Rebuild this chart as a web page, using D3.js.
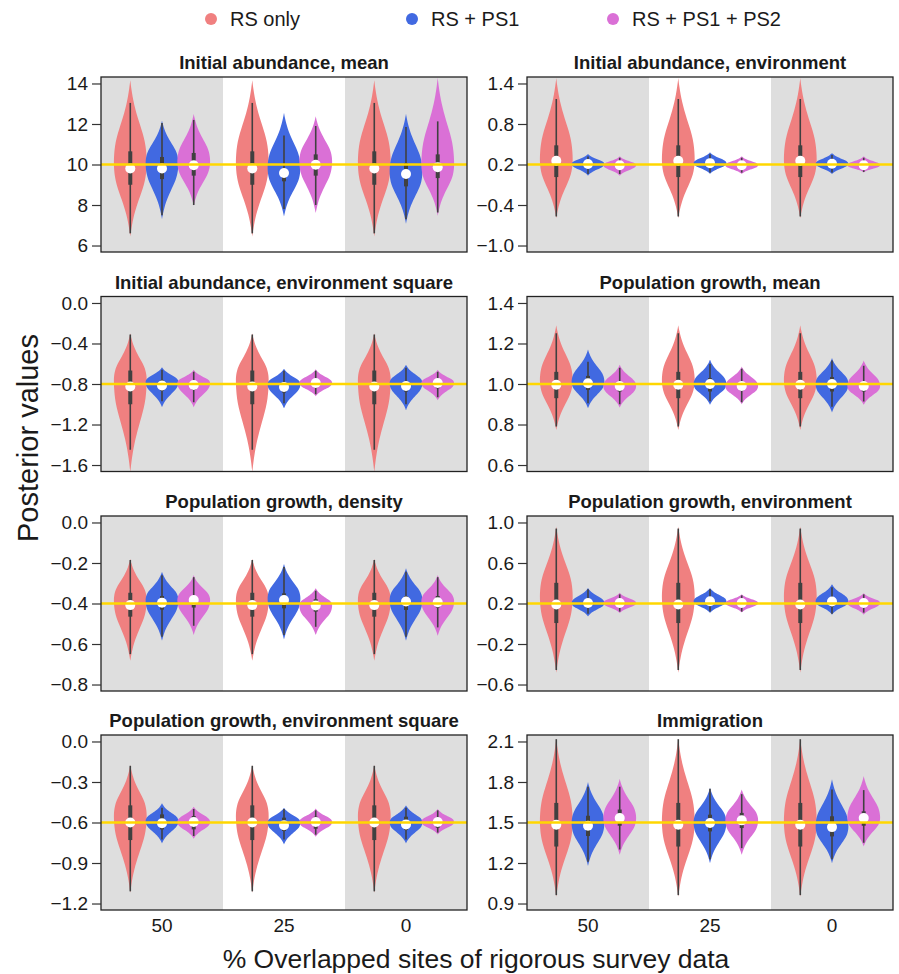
<!DOCTYPE html>
<meta charset="utf-8">
<style>
  body { margin: 0; background: white; }
  text { font-family: "Liberation Sans", Arial, Helvetica, sans-serif; fill: #1a1a1a; }
  .panel_title { font-weight: bold; font-size: 18.5px; }
  .tick text { font-size: 19px; }
  .tick line { stroke: #333; }
  .domain { display: none; }
</style>
<script src="https://d3js.org/d3.v7.min.js"></script>
<div id="my_dataviz"></div>
<script>

// groups on the x axis and the three data combinations
var groups = ["50", "25", "0"];
var series = ["RS only", "RS + PS1", "RS + PS1 + PS2"];
var colors = ["#F08080", "#4169E1", "#DA70D6"];

var titles = [
  "Initial abundance, mean", "Initial abundance, environment",
  "Initial abundance, environment square", "Population growth, mean",
  "Population growth, density", "Population growth, environment",
  "Population growth, environment square", "Immigration"
];
var yTicks = [
  [6, 8, 10, 12, 14], [-1.0, -0.4, 0.2, 0.8, 1.4],
  [-1.6, -1.2, -0.8, -0.4, 0.0], [0.6, 0.8, 1.0, 1.2, 1.4],
  [-0.8, -0.6, -0.4, -0.2, 0.0], [-0.6, -0.2, 0.2, 0.6, 1.0],
  [-1.2, -0.9, -0.6, -0.3, 0.0], [0.9, 1.2, 1.5, 1.8, 2.1]
];
// true parameter value (yellow line)
var truth = [10, 0.2, -0.8, 1.0, -0.4, 0.2, -0.6, 1.5];

// one violin = [low tip, high tip, widest point, whisker low, whisker high, q1, q3, mean]
// RS only is the same in every group
var rsOnly = [
  [6.44, 14.16, 10.1, 6.6, 13.04, 9.0, 10.65, 9.8],
  [-0.595, 1.48, 0.27, -0.57, 1.17, 0.014, 0.484, 0.256],
  [-1.67, -0.30, -0.76, -1.45, -0.31, -1.0, -0.667, -0.825],
  [0.773, 1.29, 1.02, 0.79, 1.25, 0.93, 1.06, 0.996],
  [-0.683, -0.18, -0.383, -0.65, -0.185, -0.465, -0.347, -0.408],
  [-0.483, 0.96, 0.27, -0.457, 0.94, 0.007, 0.404, 0.19],
  [-1.12, -0.176, -0.55, -1.11, -0.18, -0.73, -0.473, -0.6],
  [0.95, 2.12, 1.51, 0.962, 2.117, 1.322, 1.645, 1.484]
];
// per panel: groups 50, 25, 0
var rsPs1 = [
  [[7.3, 12.17, 10.07, 7.5, 12.05, 9.28, 10.37, 9.8],
   [7.43, 12.55, 9.83, 7.8, 11.43, 9.17, 9.83, 9.58],
   [7.07, 12.5, 9.66, 7.3, 11.85, 8.92, 10.07, 9.53]],
  [[0.034, 0.355, 0.207, 0.06, 0.32, 0.147, 0.256, 0.207],
   [0.06, 0.38, 0.22, 0.08, 0.35, 0.17, 0.27, 0.22],
   [0.06, 0.37, 0.21, 0.08, 0.34, 0.16, 0.26, 0.21]],
  [[-1.03, -0.634, -0.78, -0.97, -0.66, -0.865, -0.76, -0.815],
   [-1.04, -0.65, -0.80, -0.99, -0.67, -0.885, -0.785, -0.83],
   [-1.06, -0.61, -0.79, -1.0, -0.64, -0.875, -0.77, -0.82]],
  [[0.88, 1.17, 1.01, 0.905, 1.11, 0.971, 1.04, 1.004],
   [0.897, 1.12, 1.0, 0.915, 1.10, 0.963, 1.029, 1.0],
   [0.859, 1.128, 1.0, 0.888, 1.116, 0.963, 1.034, 1.0]],
  [[-0.584, -0.243, -0.383, -0.564, -0.26, -0.43, -0.363, -0.396],
   [-0.578, -0.205, -0.375, -0.556, -0.22, -0.424, -0.35, -0.383],
   [-0.584, -0.226, -0.383, -0.564, -0.243, -0.432, -0.363, -0.39]],
  [[0.073, 0.354, 0.205, 0.10, 0.34, 0.16, 0.25, 0.205],
   [0.106, 0.354, 0.222, 0.12, 0.34, 0.18, 0.26, 0.222],
   [0.09, 0.39, 0.22, 0.10, 0.36, 0.17, 0.26, 0.22]],
  [[-0.755, -0.458, -0.59, -0.725, -0.49, -0.651, -0.54, -0.606],
   [-0.762, -0.49, -0.60, -0.725, -0.5, -0.663, -0.564, -0.62],
   [-0.755, -0.473, -0.60, -0.725, -0.49, -0.656, -0.557, -0.614]],
  [[1.178, 1.80, 1.496, 1.21, 1.765, 1.40, 1.55, 1.476],
   [1.198, 1.757, 1.50, 1.228, 1.75, 1.434, 1.558, 1.496],
   [1.198, 1.82, 1.47, 1.228, 1.745, 1.397, 1.546, 1.466]]
];
var rsPs1Ps2 = [
  [[7.96, 12.5, 10.15, 8.0, 12.2, 9.45, 10.57, 9.96],
   [7.6, 12.38, 10.15, 8.0, 11.9, 9.45, 10.5, 9.99],
   [7.47, 14.28, 10.0, 7.63, 12.13, 9.33, 10.5, 9.87]],
  [[0.034, 0.32, 0.19, 0.06, 0.30, 0.15, 0.23, 0.19],
   [0.06, 0.32, 0.19, 0.08, 0.30, 0.15, 0.23, 0.19],
   [0.08, 0.32, 0.19, 0.09, 0.30, 0.15, 0.23, 0.19]],
  [[-1.03, -0.66, -0.79, -0.98, -0.68, -0.858, -0.776, -0.81],
   [-0.92, -0.655, -0.79, -0.9, -0.67, -0.832, -0.752, -0.79],
   [-0.96, -0.66, -0.79, -0.93, -0.68, -0.842, -0.752, -0.79]],
  [[0.883, 1.095, 0.99, 0.9, 1.08, 0.963, 1.012, 0.99],
   [0.90, 1.086, 0.99, 0.91, 1.075, 0.968, 1.012, 0.99],
   [0.897, 1.116, 0.99, 0.913, 1.09, 0.963, 1.012, 0.99]],
  [[-0.556, -0.26, -0.383, -0.51, -0.27, -0.42, -0.363, -0.383],
   [-0.556, -0.325, -0.41, -0.515, -0.337, -0.44, -0.379, -0.41],
   [-0.56, -0.26, -0.39, -0.518, -0.27, -0.42, -0.363, -0.394]],
  [[0.106, 0.305, 0.205, 0.12, 0.29, 0.17, 0.24, 0.205],
   [0.113, 0.29, 0.205, 0.12, 0.28, 0.17, 0.24, 0.205],
   [0.09, 0.30, 0.205, 0.11, 0.29, 0.17, 0.24, 0.205]],
  [[-0.72, -0.483, -0.596, -0.70, -0.5, -0.651, -0.552, -0.596],
   [-0.705, -0.497, -0.596, -0.69, -0.51, -0.646, -0.557, -0.596],
   [-0.688, -0.5, -0.596, -0.675, -0.51, -0.639, -0.564, -0.596]],
  [[1.26, 1.824, 1.533, 1.30, 1.765, 1.476, 1.596, 1.533],
   [1.26, 1.745, 1.516, 1.31, 1.71, 1.459, 1.571, 1.516],
   [1.322, 1.844, 1.533, 1.35, 1.74, 1.476, 1.583, 1.533]]
];

// relative half-width of a violin from its widest point (0) to its tip (1)
var violinShape = [1, 0.98, 0.93, 0.83, 0.68, 0.52, 0.37, 0.24, 0.14, 0.06, 0];

var W = 899, H = 974;
var colX = [101, 527], panelW = 366, panelH = 175;
var rowY = [77, 296.5, 516, 735];
var halfW = 16.5;

var svg = d3.select("#my_dataviz")
  .append("svg")
    .attr("width", W)
    .attr("height", H);

// legend
var legend = svg.append("g");
var legendX = [211, 412, 613];
series.forEach(function(s, i) {
  legend.append("circle")
    .attr("cx", legendX[i]).attr("cy", 19).attr("r", 6)
    .style("fill", colors[i]);
  legend.append("text")
    .attr("x", legendX[i] + 19).attr("y", 26)
    .style("font-size", "20px")
    .text(s);
});

function violinPoints(v) {
  var lo = v[0], hi = v[1], mid = v[2];
  var n = violinShape.length - 1;
  var pts = [];
  for (var i = n; i >= 0; i--) {
    pts.push({ v: mid - (mid - lo) * i / n, f: violinShape[i] });
  }
  for (var j = 1; j <= n; j++) {
    pts.push({ v: mid + (hi - mid) * j / n, f: violinShape[j] });
  }
  return pts;
}

titles.forEach(function(title, p) {
  var col = p % 2, row = Math.floor(p / 2);
  var g = svg.append("g")
    .attr("transform", "translate(" + colX[col] + "," + rowY[row] + ")");

  var t = yTicks[p];
  var span = t[t.length - 1] - t[0];
  var y = d3.scaleLinear()
    .domain([t[0] - 0.04 * span, t[t.length - 1] + 0.04 * span])
    .range([panelH, 0]);
  var x = d3.scaleBand().domain(groups).range([0, panelW]);
  var xi = d3.scalePoint().domain(series)
    .range([x.bandwidth() * 0.24, x.bandwidth() * 0.76]);

  // alternating grey / white group bands
  g.selectAll("bands")
    .data(groups)
    .enter()
    .append("rect")
      .attr("x", function(d) { return x(d); })
      .attr("y", 0)
      .attr("width", x.bandwidth())
      .attr("height", panelH)
      .style("fill", function(d, i) { return i % 2 === 0 ? "#dedede" : "#ffffff"; });

  g.append("clipPath").attr("id", "clip" + p)
    .append("rect").attr("width", panelW).attr("height", panelH);

  var plot = g.append("g").attr("clip-path", "url(#clip" + p + ")");

  var violins = [];
  groups.forEach(function(gr, gi) {
    violins.push({ group: gr, s: 0, v: rsOnly[p] });
    violins.push({ group: gr, s: 1, v: rsPs1[p][gi] });
    violins.push({ group: gr, s: 2, v: rsPs1Ps2[p][gi] });
  });

  violins.forEach(function(d) {
    var cx = x(d.group) + xi(series[d.s]);
    var area = d3.area()
      .y(function(q) { return y(q.v); })
      .x0(function(q) { return cx - halfW * q.f; })
      .x1(function(q) { return cx + halfW * q.f; })
      .curve(d3.curveBasis);
    plot.append("path")
      .attr("d", area(violinPoints(d.v)))
      .style("fill", colors[d.s]);
    // whisker
    plot.append("line")
      .attr("x1", cx).attr("x2", cx)
      .attr("y1", y(d.v[3])).attr("y2", y(d.v[4]))
      .style("stroke", "#404040").style("stroke-width", 1.6);
    // box
    plot.append("rect")
      .attr("x", cx - 2).attr("width", 4)
      .attr("y", y(d.v[6])).attr("height", y(d.v[5]) - y(d.v[6]))
      .style("fill", "#404040");
    // mean
    plot.append("circle")
      .attr("cx", cx).attr("cy", y(d.v[7])).attr("r", 5)
      .style("fill", "white");
  });

  // true value line
  plot.append("line")
    .attr("x1", 0).attr("x2", panelW)
    .attr("y1", y(truth[p])).attr("y2", y(truth[p]))
    .style("stroke", "#FFD700").style("stroke-width", 2.6);

  // frame
  g.append("rect")
    .attr("width", panelW).attr("height", panelH)
    .style("fill", "none").style("stroke", "#222").style("stroke-width", 1.3);

  // y axis
  var fmt = p === 0 ? d3.format("d") : d3.format(".1f");
  g.append("g")
    .call(d3.axisLeft(y).tickValues(t).tickSize(9).tickPadding(4).tickFormat(fmt))
    .selectAll(".tick text").style("fill", "#1a1a1a");
  g.selectAll(".tick line").style("stroke", "#333").style("stroke-width", 1.2);

  // title
  g.append("text")
    .attr("class", "panel_title")
    .attr("x", panelW / 2)
    .attr("y", -8)
    .attr("text-anchor", "middle")
    .text(title);

  // x labels, bottom row only
  if (row === 3) {
    g.selectAll("xlabels")
      .data(groups)
      .enter()
      .append("text")
        .attr("x", function(d) { return x(d) + x.bandwidth() / 2; })
        .attr("y", panelH + 22)
        .attr("text-anchor", "middle")
        .style("font-size", "19px")
        .text(function(d) { return d; });
  }
});

// axis titles
svg.append("text")
  .attr("x", 476)
  .attr("y", 968)
  .attr("text-anchor", "middle")
  .style("font-size", "26.5px")
  .text("% Overlapped sites of rigorous survey data");

svg.append("text")
  .attr("transform", "rotate(-90)")
  .attr("x", -438)
  .attr("y", 38)
  .attr("text-anchor", "middle")
  .style("font-size", "29px")
  .text("Posterior values");

</script>
